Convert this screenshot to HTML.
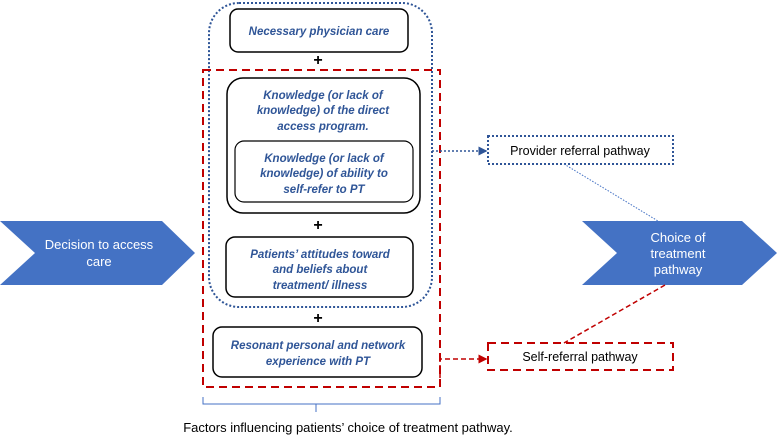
<!DOCTYPE html>
<html><head><meta charset="utf-8"><style>
body{margin:0;background:#fff;}
svg{display:block;}
text{font-family:"Liberation Sans",sans-serif;}
.b{fill:#2f5597;font-style:italic;font-weight:bold;font-size:11.5px;}
.w{fill:#fff;font-size:13px;}
.k{fill:#000;font-size:12.5px;}
.p{fill:#000;font-weight:bold;font-size:16px;}
</style></head><body>
<svg width="777" height="435" viewBox="0 0 777 435" xmlns="http://www.w3.org/2000/svg">
<defs>
<marker id="ab" markerWidth="6" markerHeight="6" refX="5" refY="3" orient="auto"><path d="M0,0 L6,3 L0,6 z" fill="#2f5597"/></marker>
<marker id="ar" markerWidth="6" markerHeight="6" refX="5" refY="3" orient="auto"><path d="M0,0 L6,3 L0,6 z" fill="#c00000"/></marker>
</defs>
<polygon points="0,221 162,221 195,253 162,285 0,285 35,253" fill="#4472c4"/>
<text class="w" x="99" y="249" text-anchor="middle">Decision to access</text>
<text class="w" x="99" y="266" text-anchor="middle">care</text>
<polygon points="582,221 742,221 777,253 742,285 582,285 617,253" fill="#4472c4"/>
<text class="w" x="678" y="242" text-anchor="middle">Choice of</text>
<text class="w" x="678" y="258" text-anchor="middle">treatment</text>
<text class="w" x="678" y="274" text-anchor="middle">pathway</text>

<rect x="209" y="3" width="223" height="304" rx="30" fill="none" stroke="#2f5597" stroke-width="2" stroke-dasharray="2,2"/>
<rect x="203" y="70" width="237" height="317" fill="none" stroke="#c00000" stroke-width="2" stroke-dasharray="8,5"/>

<rect x="230" y="9" width="178" height="43" rx="8" fill="#fff" stroke="#000" stroke-width="1.5"/>
<text class="b" x="319" y="35" text-anchor="middle">Necessary physician care</text>
<text class="p" x="318" y="65" text-anchor="middle">+</text>

<rect x="227" y="78" width="193" height="135" rx="16" fill="#fff" stroke="#000" stroke-width="1.5"/>
<text class="b" x="323" y="99" text-anchor="middle">Knowledge (or lack of</text>
<text class="b" x="323" y="114" text-anchor="middle">knowledge) of the direct</text>
<text class="b" x="323" y="130" text-anchor="middle">access program.</text>
<rect x="235" y="141" width="178" height="61" rx="9" fill="#fff" stroke="#000" stroke-width="1.2"/>
<text class="b" x="324" y="162" text-anchor="middle">Knowledge (or lack of</text>
<text class="b" x="324" y="177" text-anchor="middle">knowledge) of ability to</text>
<text class="b" x="324" y="193" text-anchor="middle">self-refer to PT</text>
<text class="p" x="318" y="230" text-anchor="middle">+</text>

<rect x="226" y="237" width="187" height="60" rx="9" fill="#fff" stroke="#000" stroke-width="1.5"/>
<text class="b" x="320" y="258" text-anchor="middle">Patients’ attitudes toward</text>
<text class="b" x="320" y="273" text-anchor="middle">and beliefs about</text>
<text class="b" x="320" y="289" text-anchor="middle">treatment/ illness</text>
<text class="p" x="318" y="323" text-anchor="middle">+</text>

<rect x="213" y="327" width="209" height="50" rx="9" fill="#fff" stroke="#000" stroke-width="1.5"/>
<text class="b" x="318" y="349" text-anchor="middle">Resonant personal and network</text>
<text class="b" x="318" y="365" text-anchor="middle">experience with PT</text>

<rect x="488" y="136" width="185" height="28" fill="#fff" stroke="#2f5597" stroke-width="2" stroke-dasharray="2,2"/>
<text class="k" x="580" y="155" text-anchor="middle">Provider referral pathway</text>
<line x1="432" y1="151" x2="486" y2="151" stroke="#2f5597" stroke-width="1.5" stroke-dasharray="2,2" marker-end="url(#ab)"/>
<line x1="564" y1="164" x2="658" y2="221" stroke="#4472c4" stroke-width="1" stroke-dasharray="1.5,1.5"/>

<rect x="488" y="343" width="185" height="27" fill="#fff" stroke="#c00000" stroke-width="2" stroke-dasharray="8,5"/>
<text class="k" x="580" y="361" text-anchor="middle">Self-referral pathway</text>
<polyline points="440,378 440,359 486,359" fill="none" stroke="#c00000" stroke-width="1.5" stroke-dasharray="5,3" marker-end="url(#ar)"/>
<line x1="665" y1="285" x2="564" y2="343" stroke="#c00000" stroke-width="1.5" stroke-dasharray="5,3"/>

<polyline points="203,397 203,404 440,404 440,397" fill="none" stroke="#4472c4" stroke-width="1"/>
<line x1="316" y1="404" x2="316" y2="412" stroke="#4472c4" stroke-width="1"/>
<text x="348" y="432" text-anchor="middle" style="font-size:13px;fill:#000">Factors influencing patients’ choice of treatment pathway.</text>
</svg>
</body></html>
